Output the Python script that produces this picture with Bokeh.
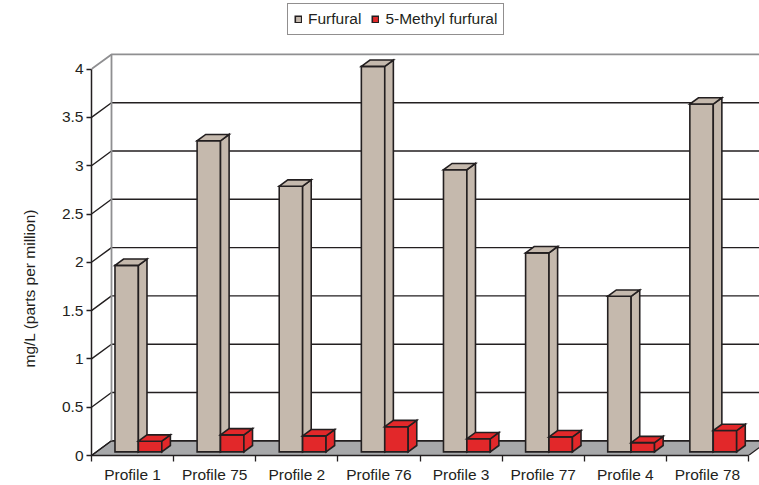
from bokeh.plotting import figure
from bokeh.models import Range1d, FixedTicker, Legend, LegendItem, Title
from bokeh.embed import file_html
from bokeh.resources import INLINE

# ---- data -------------------------------------------------------------
profiles = ["Profile 1", "Profile 75", "Profile 2", "Profile 76",
            "Profile 3", "Profile 77", "Profile 4", "Profile 78"]
furfural = [1.93, 3.22, 2.75, 3.99, 2.92, 2.06, 1.61, 3.60]
methyl_furfural = [0.11, 0.175, 0.165, 0.26, 0.135, 0.155, 0.095, 0.22]
series_names = ["Furfural", "5-Methyl furfural"]
y_ticks = [0, 0.5, 1, 1.5, 2, 2.5, 3, 3.5, 4]
y_tick_labels = ["0", "0.5", "1", "1.5", "2", "2.5", "3", "3.5", "4"]
y_title = "mg/L (parts per million)"

# ---- layout / styling -------------------------------------------------
W, H = 759, 485
LEFT, BOTTOM = 91, 30
PX_X = 82.125            # pixels per category slot
PX_Y = 96.6              # pixels per mg/L
DX = 20.0 / PX_X         # depth offset of the back wall (x units)
DY = 14.7 / PX_Y         # depth offset of the back wall (y units)
F0, F1 = 0.25, 0.68      # front / back planes of the columns (fraction of depth)
BAR_START, BAR_W = 0.225, 0.285

FONT = "Liberation Sans"
FS = "15.5px"
INK = "#231f20"
C_FURF = "#c5b9ad"
C_METHYL = "#e2282a"
C_FLOOR = "#a7a8aa"
C_WALL = "#8f8f91"

n = len(profiles)
x_end = (W - LEFT) / PX_X
y_end = (H - BOTTOM) / PX_Y
y_max = y_ticks[-1]

p = figure(width=W, height=H, x_range=Range1d(0, x_end), y_range=Range1d(0, y_end),
           output_backend="svg", toolbar_location=None,
           min_border_left=LEFT, min_border_right=0, min_border_top=0,
           min_border_bottom=BOTTOM)
p.outline_line_color = None
p.xgrid.visible = False
p.ygrid.visible = False
p.background_fill_color = "white"
p.border_fill_color = "white"

# ---- floor ------------------------------------------------------------
p.patch([0, n, n + DX, DX], [0, 0, DY, DY], fill_color=C_FLOOR,
        line_color=INK, line_width=1.2)

# ---- side wall / back wall gridlines -------------------------------------
gx, gy = [], []
for v in y_ticks[:-1]:
    gx.append([0, DX, x_end])
    gy.append([v, v + DY, v + DY])
p.multi_line(gx, gy, line_color=INK, line_width=1.4)

# wall borders (top edge and the back corner)
p.multi_line([[0, DX, x_end], [DX, DX]],
             [[y_max, y_max + DY, y_max + DY], [DY, y_max + DY]],
             line_color=C_WALL, line_width=1.8)


# ---- 3-D columns --------------------------------------------------------
def prism(x0, w, h):
    a, b = x0 + F0 * DX, x0 + w + F0 * DX
    c, d = x0 + w + F1 * DX, x0 + F1 * DX
    y0, y1 = F0 * DY, F1 * DY
    front = ([a, b, b, a], [y0, y0, h + y0, h + y0])
    side = ([b, c, c, b], [y0, y1, h + y1, h + y0])
    top = ([a, b, c, d], [h + y0, h + y0, h + y1, h + y1])
    return [front, side, top]


renderers = []
for k, (vals, color) in enumerate([(furfural, C_FURF), (methyl_furfural, C_METHYL)]):
    xs, ys = [], []
    for i, v in enumerate(vals):
        for fx, fy in prism(i + BAR_START + k * BAR_W, BAR_W, v):
            xs.append(fx)
            ys.append(fy)
    r = p.patches(xs, ys, fill_color=color, line_color=INK, line_width=1.6,
                  line_join="miter")
    renderers.append(r)

# ---- axes -----------------------------------------------------------------
ya = p.yaxis[0]
ya.bounds = (0, y_max)
ya.ticker = FixedTicker(ticks=y_ticks, minor_ticks=[])
ya.major_label_overrides = dict(zip(y_ticks, y_tick_labels))
ya.axis_line_color = INK
ya.axis_line_width = 1.5
ya.major_tick_line_color = INK
ya.major_tick_line_width = 1.3
ya.major_tick_out = 5
ya.major_tick_in = 0
ya.minor_tick_line_color = None
ya.major_label_standoff = 3
ya.major_label_text_font = FONT
ya.major_label_text_font_size = FS
ya.major_label_text_color = INK

centers = [i + 0.5 for i in range(n)]
xa = p.xaxis[0]
xa.bounds = (0, n)
xa.ticker = FixedTicker(ticks=centers, minor_ticks=list(range(n + 1)))
xa.major_label_overrides = dict(zip(centers, profiles))
xa.axis_line_color = INK
xa.axis_line_width = 1.5
xa.major_tick_line_color = None
xa.major_tick_out = 0
xa.major_tick_in = 0
xa.minor_tick_line_color = INK
xa.minor_tick_line_width = 1.3
xa.minor_tick_out = 6
xa.minor_tick_in = 0
xa.major_label_standoff = 4
xa.major_label_text_font = FONT
xa.major_label_text_font_size = FS
xa.major_label_text_color = INK

# value-axis title, set in its own side panel
p.add_layout(Title(text=y_title, align="left", offset=88, standoff=38,
                   vertical_align="top",
                   text_font=FONT, text_font_size=FS, text_font_style="normal",
                   text_color=INK), "left")

# ---- legend ---------------------------------------------------------------
legend = Legend(items=[LegendItem(label=series_names[0], renderers=[renderers[0]]),
                       LegendItem(label=series_names[1], renderers=[renderers[1]])],
                location=(196, 420), orientation="horizontal",
                padding=6, spacing=10, label_standoff=6,
                glyph_width=8, glyph_height=8, label_height=17,
                label_text_font=FONT, label_text_font_size=FS,
                label_text_color=INK,
                border_line_color=INK, border_line_width=1.5,
                background_fill_color="white", background_fill_alpha=1.0)
p.add_layout(legend)

open("out.html", "w").write(file_html(p, INLINE))
